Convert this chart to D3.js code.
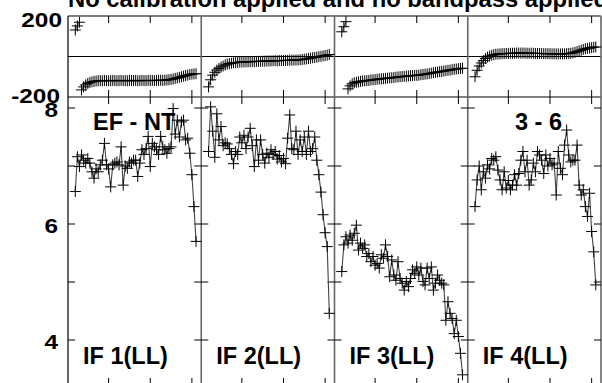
<!DOCTYPE html>
<html>
<head>
<meta charset="utf-8">
<script src="https://cdn.jsdelivr.net/npm/d3@7/dist/d3.min.js"></script>
<style>
body { margin: 0; background: #fff; }
svg { display: block; }
text { font-family: "Liberation Sans", Arial, sans-serif; font-weight: bold; fill: #000; }
</style>
</head>
<body>
<svg id="chart" width="602" height="383"></svg>
<script>
// channels plotted in every IF
var channels = d3.range(4, 63);
var ifNames = ['IF 1(LL)', 'IF 2(LL)', 'IF 3(LL)', 'IF 4(LL)'];
var baselineLeft = 'EF - NT', baselineRight = '3 - 6';
var title = 'No calibration applied and no bandpass applied';

var ampIF1 = [6.56, 7.16, 6.99, 7.19, 7.10, 7.05, 7.13, 7.05, 6.90, 6.79, 6.95, 6.90, 7.02, 7.10, 7.39,
    7.02, 6.95, 6.64, 7.02, 7.05, 7.07, 7.02, 7.33, 6.67, 7.00, 6.96, 7.07, 7.05, 7.10, 7.10, 6.82,
    7.05, 7.28, 7.20, 7.30, 7.51, 6.99, 7.39, 7.33, 7.28, 7.20, 7.51, 7.33, 7.28, 7.22, 7.30, 7.33,
    7.99, 7.55, 7.79, 7.50, 7.76, 7.79, 7.45, 7.48, 7.22, 6.85, 6.30, 5.70];
var ampIF2 = [7.25, 8.02, 7.60, 7.15, 7.90, 7.45, 7.68, 7.35, 7.40, 7.38, 7.30, 7.20, 7.04, 7.25, 7.20,
    7.50, 7.40, 7.53, 7.30, 7.50, 7.65, 7.35, 6.99, 7.45, 7.10, 7.45, 7.20, 7.05, 7.22, 7.15, 7.28,
    7.20, 7.25, 7.12, 7.18, 7.07, 7.13, 7.04, 7.48, 7.88, 7.30, 7.28, 7.60, 7.20, 7.45, 7.25, 7.50,
    7.20, 7.60, 7.25, 7.30, 7.50, 7.10, 6.85, 6.55, 6.16, 5.85, 5.61, 4.46];
var ampIF3 = [5.18, 5.64, 5.78, 5.67, 5.81, 5.72, 5.84, 5.98, 5.55, 5.67, 5.58, 5.64, 5.44, 5.49, 5.35,
    5.44, 5.29, 5.32, 5.24, 5.47, 5.41, 5.64, 5.44, 5.09, 5.38, 5.12, 5.03, 5.35, 5.06, 4.98, 4.86,
    5.01, 4.92, 5.06, 5.21, 5.15, 5.26, 5.12, 5.24, 5.01, 4.95, 5.24, 5.06, 5.26, 4.86, 4.98, 5.12,
    5.03, 4.98, 4.95, 4.34, 4.66, 4.46, 4.37, 4.11, 4.34, 4.06, 3.77, 3.40];
var ampIF4 = [6.30, 6.76, 7.00, 6.59, 6.90, 6.79, 7.02, 6.95, 7.13, 7.10, 7.16, 6.93, 6.76, 6.59, 6.90,
    6.62, 6.75, 6.59, 6.67, 6.85, 6.67, 6.87, 7.10, 7.25, 6.90, 7.10, 6.67, 6.76, 7.05, 6.90, 7.25,
    7.19, 7.10, 6.87, 7.19, 7.00, 7.13, 7.02, 7.05, 6.50, 7.25, 6.96, 6.85, 7.36, 7.62, 7.19, 7.07,
    7.10, 7.10, 7.36, 6.67, 6.50, 6.59, 6.30, 6.13, 6.53, 5.87, 5.52, 4.95];

var phaseIF1 = [131, 151, 169, -165, -150, -140, -133, -128, -125, -123, -121, -120, -119, -120, -118,
    -119, -120, -119, -118, -119, -120, -119, -118, -119, -119, -120, -118, -119, -119, -118, -120,
    -119, -118, -119, -119, -118, -119, -118, -119, -118, -118, -117, -118, -117, -116, -115, -113,
    -111, -108, -106, -103, -100, -97, -94, -92, -89, -87, -86, -85];
var phaseIF2 = [-150, -115, -92, -78, -67, -59, -52, -47, -42, -38, -35, -33, -31, -30, -29,
    -28, -27, -27, -26, -26, -26, -25, -25, -24, -24, -24, -23, -23, -22, -22, -22,
    -21, -21, -21, -20, -20, -20, -19, -19, -18, -18, -18, -17, -17, -16, -15, -13,
    -12, -10, -8, -6, -5, -3, -1, 1, 3, 5, 7, 10];
var phaseIF3 = [122, 147, 172, -160, -145, -135, -130, -127, -125, -123, -121, -120, -119, -118, -116,
    -115, -114, -112, -111, -110, -109, -108, -107, -106, -105, -104, -102, -101, -100, -99, -98,
    -97, -96, -95, -94, -93, -93, -92, -90, -89, -87, -86, -84, -82, -80, -78, -77,
    -75, -74, -72, -70, -68, -67, -65, -63, -62, -60, -59, -58];
var phaseIF4 = [-100, -68, -47, -32, -20, -10, -3, 2, 6, 9, 11, 12, 13, 14, 14,
    15, 15, 16, 16, 16, 17, 17, 17, 17, 17, 16, 16, 16, 16, 15, 15,
    15, 15, 14, 14, 14, 14, 13, 13, 13, 13, 13, 13, 13, 14, 15, 16,
    18, 21, 24, 28, 31, 35, 38, 40, 42, 44, 46, 47];

var ampSeries = [ampIF1, ampIF2, ampIF3, ampIF4];
var phaseSeries = [phaseIF1, phaseIF2, phaseIF3, phaseIF4];
var ampTicks = [4, 5, 6, 7, 8], ampTickLabels = [4, 6, 8];
var phaseTickLabels = [200, -200];
var chanTicks = [20, 40, 60];

var svg = d3.select('#chart');
var left = 68, right = 601, phTop = 16, phBot = 97, ampBot = 385;
var panelW = (right - left) / 4;
var tick = 7, cross = 5.5;

var yPh = d3.scaleLinear().domain([-200, 200]).range([phBot, phTop]);
var yAmp = d3.scaleLinear().domain([4, 8]).range([340, 108]);

var frame = svg.append('g');
var hline = function (y, col) {
    frame.append('line').attr('x1', left).attr('x2', right).attr('y1', y).attr('y2', y)
        .attr('stroke', col).attr('stroke-width', 1.2);
};
hline(phTop, '#000');
hline(yPh(0), '#000');
hline(phBot, '#000');

var crossPath = function (x, y) {
    return 'M' + (x - cross) + ',' + y + 'h' + (2 * cross) + 'M' + x + ',' + (y - cross) + 'v' + (2 * cross);
};

ampSeries.forEach(function (amps, i) {
    var x0 = left + i * panelW, x1 = x0 + panelW;
    var x = d3.scaleLinear().domain([0.5, 64.5]).range([x0, x1]);
    var g = svg.append('g');

    // channel ticks on phase and amplitude boxes
    chanTicks.forEach(function (c) {
        var cx = x(c);
        [[phTop, phTop + tick], [phBot - tick, phBot + tick], [ampBot - tick, ampBot]].forEach(function (s) {
            g.append('line').attr('x1', cx).attr('x2', cx).attr('y1', s[0]).attr('y2', s[1])
                .attr('stroke', '#000').attr('stroke-width', 1);
        });
    });
    // amplitude ticks on both sides of the box
    ampTicks.forEach(function (v) {
        [[x0, x0 + tick], [x1 - tick, x1]].forEach(function (s) {
            g.append('line').attr('x1', s[0]).attr('x2', s[1]).attr('y1', yAmp(v)).attr('y2', yAmp(v))
                .attr('stroke', '#000').attr('stroke-width', 1);
        });
    });

    // amplitude
    var pts = channels.map(function (c, k) { return [x(c), yAmp(amps[k])]; });
    g.append('path').attr('d', d3.line()(pts))
        .attr('fill', 'none').attr('stroke', '#444').attr('stroke-width', 1.1);
    g.append('path').attr('d', pts.map(function (p) { return crossPath(p[0], p[1]); }).join(''))
        .attr('fill', 'none').attr('stroke', '#000').attr('stroke-width', 1);

    // phase, broken where it wraps
    var ph = phaseSeries[i];
    var segs = [[]];
    channels.forEach(function (c, k) {
        if (k > 0 && Math.abs(ph[k] - ph[k - 1]) > 180) segs.push([]);
        segs[segs.length - 1].push([x(c), yPh(ph[k])]);
    });
    segs.forEach(function (s) {
        g.append('path').attr('d', d3.line()(s))
            .attr('fill', 'none').attr('stroke', '#444').attr('stroke-width', 1);
    });
    g.append('path').attr('d', channels.map(function (c, k) { return crossPath(x(c), yPh(ph[k])); }).join(''))
        .attr('fill', 'none').attr('stroke', '#000').attr('stroke-width', 1);

    g.append('text').attr('x', x0 + 15).attr('y', 364).style('font-size', '23.5px').text(ifNames[i]);
});

// panel borders
d3.range(5).forEach(function (i) {
    var bx = left + i * panelW;
    frame.append('line').attr('x1', bx).attr('x2', bx).attr('y1', phTop).attr('y2', ampBot)
        .attr('stroke', i === 0 ? '#000' : '#666').attr('stroke-width', i === 0 ? 1.2 : 1.6);
});

// axis labels, digits are drawn wide
var numLabel = function (txt, xr, yb) {
    svg.append('text').attr('transform', 'translate(' + xr + ',' + yb + ') scale(1.22,1)')
        .attr('text-anchor', 'end').style('font-size', '20px').text(txt);
};
phaseTickLabels.forEach(function (v) {
    numLabel(v, v > 0 ? 62 : 60, Math.min(Math.max(yPh(v) + 9, phTop + 11), phBot + 6));
});
ampTickLabels.forEach(function (v) { numLabel(v, 58, yAmp(v) + 9); });

svg.append('text').attr('x', 93).attr('y', 130).style('font-size', '23.5px').text(baselineLeft);
svg.append('text').attr('x', 562).attr('y', 130).attr('text-anchor', 'end').style('font-size', '23.5px').text(baselineRight);

svg.append('text').attr('x', 68).attr('y', 7).style('font-size', '23px')
    .attr('textLength', 540).attr('lengthAdjust', 'spacingAndGlyphs').text(title);
</script>
</body>
</html>
